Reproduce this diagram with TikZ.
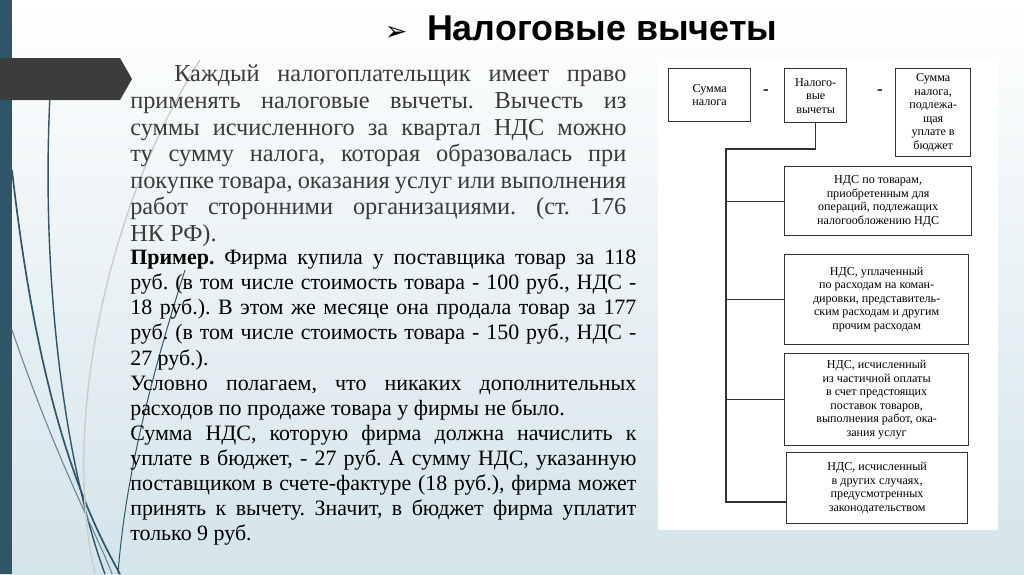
\documentclass[tikz,border=0pt]{standalone}
\usepackage{fontspec}
\setmainfont{Liberation Serif}
\newfontfamily\titlefont{Liberation Sans}
\newfontfamily\symfont{DejaVu Sans}
\definecolor{barteal}{HTML}{2E5568}
\definecolor{tabgray}{HTML}{3C3C3C}
\definecolor{bgtop}{HTML}{FFFFFF}
\definecolor{bgbot}{HTML}{D3E4EA}
\definecolor{txtgray}{HTML}{3A3A3A}
\tikzset{
  dbox/.style={draw=black!80, line width=0.9pt, fill=white, align=center,
    font=\fontsize{8.6}{9.6}\selectfont, inner sep=1pt},
  link/.style={draw=black!80, line width=0.9pt},
  sign/.style={font=\bfseries\fontsize{12}{12}\selectfont}
}
\frenchspacing
\begin{document}
\begin{tikzpicture}[x=0.025cm, y=-0.025cm]
\useasboundingbox (0,0) rectangle (1024,574);
% background
\shade[top color=bgtop, bottom color=bgbot] (0,0) rectangle (1024,574);
\fill[barteal] (0,0) rectangle (12,574);
% decorative curves
\draw[barteal, line width=1.2pt] (12,170) .. controls (40,420) and (90,520) .. (120,574);
\draw[barteal, line width=1pt] (50,95) .. controls (40,300) and (70,480) .. (105,574);
\draw[barteal!70, line width=0.8pt] (12,330) .. controls (60,470) and (100,540) .. (112,574);
\draw[gray!40, line width=1pt] (200,60) .. controls (110,200) and (60,420) .. (95,574);
\draw[barteal, line width=0.7pt] (185,270) .. controls (150,380) and (125,480) .. (118,574);
% tab
\fill[tabgray] (0,58) -- (120,58) -- (132,79) -- (120,100) -- (0,100) -- cycle;
% title
\node[anchor=west, font=\titlefont\bfseries\fontsize{25.5}{25.5}\selectfont, text=black]
  (title) at (380,28) {{\symfont\fontsize{19}{19}\selectfont ➢}\hspace{14pt}Налоговые вычеты};
% main text
\node[anchor=north west, inner sep=0pt, text=txtgray, align=justify,
  text width=12.4cm, font=\fontsize{17.3}{18.9}\selectfont] (intro) at (130,65)
  {\hspace*{1.1cm}Каждый налогоплательщик имеет право применять налоговые вычеты. Вычесть из суммы исчисленного за квартал НДС можно ту сумму налога, которая образовалась при покупке товара, оказания услуг или выполнения работ сторонними организациями. (ст.~176 НК~РФ).};
\node[anchor=north west, inner sep=0pt, text=black, align=justify,
  text width=12.65cm, font=\fontsize{15.6}{17.8}\selectfont] (example) at (130,250)
  {\textbf{Пример.} Фирма купила у поставщика товар за 118 руб. (в том числе стоимость товара - 100 руб., НДС - 18 руб.). В этом же месяце она продала товар за 177 руб. (в том числе стоимость товара - 150 руб., НДС - 27 руб.).\\
  Условно полагаем, что никаких дополнительных расходов по продаже товара у фирмы не было.\\
  Сумма НДС, которую фирма должна начислить к уплате в бюджет, - 27 руб. А сумму НДС, указанную поставщиком в счете-фактуре (18 руб.), фирма может принять к вычету. Значит, в бюджет фирма уплатит только 9 руб.};
% diagram panel
\fill[white] (658,58) rectangle (998,530);
\node[dbox, minimum width=82*0.025cm, minimum height=53*0.025cm, anchor=north west] (tax) at (668,68) {Сумма\\налога};
\node[dbox, minimum width=62*0.025cm, minimum height=54*0.025cm, anchor=north west] (ded) at (784,68) {Налого-\\вые\\вычеты};
\node[dbox, minimum width=75*0.025cm, minimum height=88*0.025cm, anchor=north west] (pay) at (895,68) {Сумма\\налога,\\подлежа-\\щая\\уплате в\\бюджет};
\node[sign] (minus) at (766,92) {-};
\node[sign] (equal) at (880,92) {-};
\node[dbox, minimum width=187*0.025cm, minimum height=69*0.025cm, anchor=north west] (goods) at (784,166)
  {НДС по товарам,\\приобретенным для\\операций, подлежащих\\налогообложению НДС};
\node[dbox, minimum width=184*0.025cm, minimum height=90*0.025cm, anchor=north west] (trip) at (784,254)
  {НДС, уплаченный\\по расходам на коман-\\дировки, представитель-\\ским расходам и другим\\прочим расходам};
\node[dbox, minimum width=184*0.025cm, minimum height=92*0.025cm, anchor=north west] (prepay) at (784,353)
  {НДС, исчисленный\\из частичной оплаты\\в счет предстоящих\\поставок товаров,\\выполнения работ, ока-\\зания услуг};
\node[dbox, minimum width=181*0.025cm, minimum height=71*0.025cm, anchor=north west] (other) at (786,452)
  {НДС, исчисленный\\в других случаях,\\предусмотренных\\законодательством};
\coordinate (split) at (726,149);
\coordinate (stem) at (726,502);
\draw[link] (ded.south) |- (split) -- (stem) -- (stem -| other.west);
\foreach \b in {goods, trip, prepay}
  \draw[link] (split |- \b.west) -- (\b.west);
\end{tikzpicture}
\end{document}
